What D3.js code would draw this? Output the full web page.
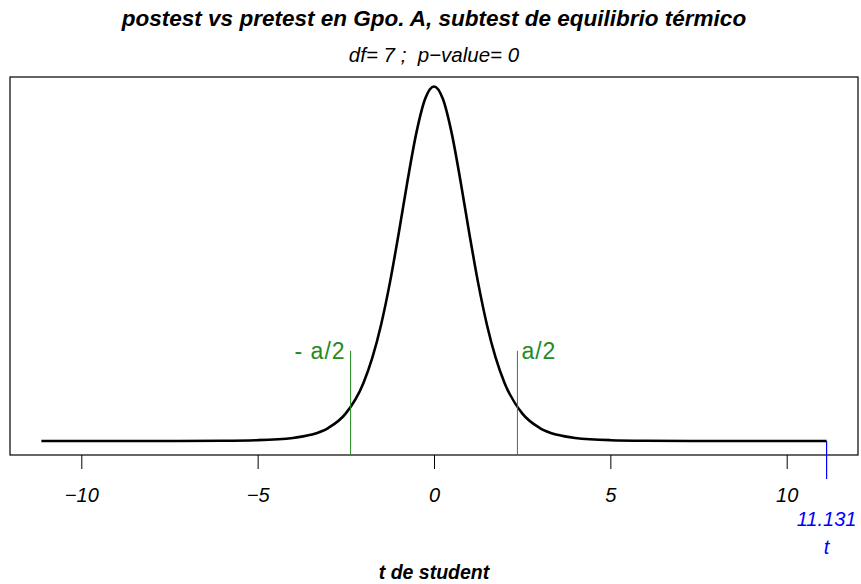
<!DOCTYPE html>
<html>
<head>
<meta charset="utf-8">
<script src="https://cdn.jsdelivr.net/npm/d3@7/dist/d3.min.js"></script>
<style>
  body { margin: 0; background: #fff; }
  svg text { font-family: "Liberation Sans", Arial, sans-serif; white-space: pre; }
</style>
</head>
<body>
<script>
// chart values
const title = 'postest vs pretest en Gpo. A, subtest de equilibrio térmico'
const subtitle = 'df= 7 ;  p\u2212value= 0'
const xLabel = 't de student'
const tStat = 11.131
const tCrit = 2.365
const critTop = 0.098
const xTicks = [-10, -5, 0, 5, 10]

// density curve
const curveX = [-11.131, -10, -8, -6, -5, -4, -3.5, -3, -2.5, -2, -1.75, -1.5, -1.25, -1, -0.75, -0.5, -0.25,
  0, 0.25, 0.5, 0.75, 1, 1.25, 1.5, 1.75, 2, 2.5, 3, 3.5, 4, 5, 6, 8, 10, 11.131]
const curveY = [0.0000, 0.0000, 0.0000, 0.0003, 0.0009, 0.0033, 0.0067, 0.0141, 0.0300, 0.0631, 0.0902, 0.1263, 0.1720, 0.2257, 0.2826, 0.3346, 0.3716,
  0.3850, 0.3716, 0.3346, 0.2826, 0.2257, 0.1720, 0.1263, 0.0902, 0.0631, 0.0300, 0.0141, 0.0067, 0.0033, 0.0009, 0.0003, 0.0000, 0.0000, 0.0000]

const W = 861, H = 584
const box = {left: 10, right: 858, top: 77, bottom: 455}

const svg = d3.select('body').append('svg')
  .attr('width', W)
  .attr('height', H)

const ext = (tStat * 2) * 0.04
const x = d3.scaleLinear()
  .domain([-tStat - ext, tStat + ext])
  .range([box.left, box.right])

const y = d3.scaleLinear()
  .domain([-0.0152, 0.3953])
  .range([box.bottom, box.top])

// frame
svg.append('rect')
  .attr('x', box.left)
  .attr('y', box.top)
  .attr('width', box.right - box.left)
  .attr('height', box.bottom - box.top)
  .attr('fill', 'none')
  .attr('stroke', '#000')
  .attr('stroke-width', 1.2)

// x axis
const xAxis = d3.axisBottom(x)
  .tickValues(xTicks)
  .tickSize(14)
  .tickPadding(19)
  .tickFormat(d => d3.format('')(d).replace('-', '\u2212'))

const gx = svg.append('g')
  .attr('transform', `translate(0,${box.bottom})`)
  .call(xAxis)
gx.select('.domain').remove()
gx.selectAll('line').attr('stroke', '#000').attr('stroke-width', 1)
gx.selectAll('text')
  .attr('font-size', 20)
  .attr('font-style', 'italic')
  .attr('fill', '#000')

// density
const line = d3.line()
  .x(d => x(d[0]))
  .y(d => y(d[1]))
  .curve(d3.curveMonotoneX)

svg.append('path')
  .datum(d3.zip(curveX, curveY))
  .attr('d', line)
  .attr('fill', 'none')
  .attr('stroke', '#000')
  .attr('stroke-width', 2.6)

// critical values
const green = '#228b22'
;[-tCrit, tCrit].forEach((c, i) => {
  svg.append('line')
    .attr('x1', x(c)).attr('x2', x(c))
    .attr('y1', box.bottom).attr('y2', y(critTop))
    .attr('stroke', green)
    .attr('stroke-width', 1)
  svg.append('text')
    .attr('x', i === 0 ? x(c) - 5 : x(c) + 4)
    .attr('y', y(critTop) + 8)
    .attr('text-anchor', i === 0 ? 'end' : 'start')
    .attr('font-size', 23)
    .attr('letter-spacing', 1)
    .attr('fill', green)
    .text(i === 0 ? '- a/2' : 'a/2')
})

// observed statistic
const blue = '#0000ff'
svg.append('line')
  .attr('x1', x(tStat)).attr('x2', x(tStat))
  .attr('y1', y(0)).attr('y2', box.bottom + 24)
  .attr('stroke', blue)
  .attr('stroke-width', 1.2)
svg.append('text')
  .attr('x', x(tStat))
  .attr('y', 526)
  .attr('text-anchor', 'middle')
  .attr('font-size', 20)
  .attr('font-style', 'italic')
  .attr('fill', blue)
  .text(tStat)
svg.append('text')
  .attr('x', x(tStat))
  .attr('y', 554)
  .attr('text-anchor', 'middle')
  .attr('font-size', 20)
  .attr('font-style', 'italic')
  .attr('fill', blue)
  .text('t')

// titles
const cx = (box.left + box.right) / 2
svg.append('text')
  .attr('x', cx)
  .attr('y', 26)
  .attr('text-anchor', 'middle')
  .attr('font-size', 22.5)
  .attr('font-weight', 'bold')
  .attr('font-style', 'italic')
  .text(title)
svg.append('text')
  .attr('x', cx)
  .attr('y', 62)
  .attr('text-anchor', 'middle')
  .attr('font-size', 20.5)
  .attr('font-style', 'italic')
  .text(subtitle)
svg.append('text')
  .attr('x', cx)
  .attr('y', 579)
  .attr('text-anchor', 'middle')
  .attr('font-size', 19.5)
  .attr('font-weight', 'bold')
  .attr('font-style', 'italic')
  .text(xLabel)
</script>
</body>
</html>
